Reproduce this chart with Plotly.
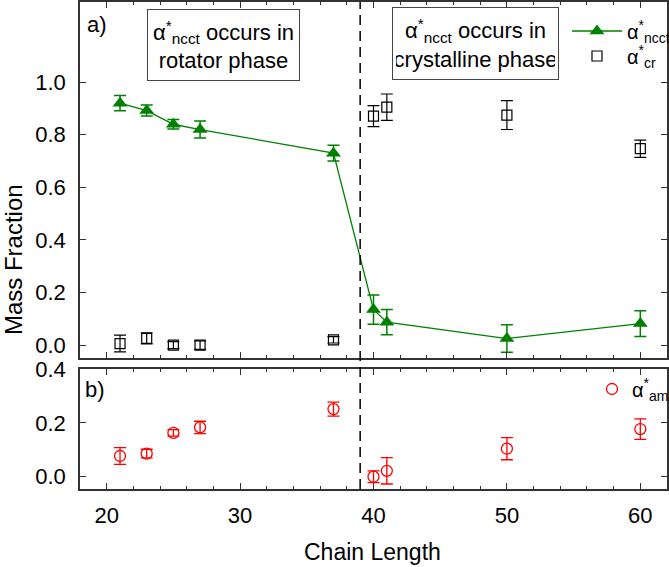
import plotly.graph_objects as go

# ---- data ----
chain = [21, 23, 25, 27, 37, 40, 41, 50, 60]
ncct = [0.92, 0.892, 0.84, 0.82, 0.73, 0.135, 0.087, 0.025, 0.082]
ncct_err = [0.029, 0.021, 0.018, 0.032, 0.03, 0.056, 0.048, 0.052, 0.049]
cr = [0.006, 0.026, 0.0, 0.0, 0.02, 0.871, 0.905, 0.875, 0.747]
cr_err = [0.032, 0.021, 0.013, 0.016, 0.012, 0.04, 0.05, 0.055, 0.033]
am = [0.077, 0.086, 0.163, 0.183, 0.251, 0.0, 0.022, 0.104, 0.177]
am_err = [0.031, 0.016, 0.012, 0.023, 0.026, 0.022, 0.049, 0.041, 0.038]
transition_x = 39

GREEN = "#008000"
RED = "#ff0000"
FONT = "Liberation Sans, Arial, sans-serif"

fig = go.Figure()
fig.add_trace(go.Scatter(
    x=chain, y=ncct, xaxis="x2", yaxis="y2", mode="lines+markers",
    name="α<sup>*</sup><sub>ncct</sub>", legend="legend",
    line=dict(color=GREEN, width=1.3),
    marker=dict(symbol="triangle-up", size=13, color=GREEN),
    error_y=dict(type="data", array=ncct_err, color=GREEN, thickness=1.5, width=6),
))
fig.add_trace(go.Scatter(
    x=chain, y=cr, xaxis="x2", yaxis="y2", mode="markers",
    name="α<sup>*</sup><sub>cr</sub>", legend="legend3",
    marker=dict(symbol="square-open", size=10, color="black", line=dict(width=1.2)),
    error_y=dict(type="data", array=cr_err, color="black", thickness=1.2, width=6),
))
fig.add_trace(go.Scatter(
    x=chain, y=am, xaxis="x", yaxis="y", mode="markers",
    name="α<sup>*</sup><sub>am</sub>", legend="legend2",
    marker=dict(symbol="circle-open", size=11, color=RED, line=dict(width=1.3)),
    error_y=dict(type="data", array=am_err, color=RED, thickness=1.3, width=6),
))

axis_common = dict(
    showline=True, linecolor="#333", linewidth=1.5, mirror="allticks",
    ticks="inside", ticklen=6, tickwidth=1.2, tickcolor="#333",
    showgrid=False, zeroline=False,
    tickfont=dict(family=FONT, size=22, color="black"),
)

leg_common = dict(xref="container", yref="container", xanchor="left", yanchor="middle",
                  bgcolor="rgba(0,0,0,0)", font=dict(family=FONT, size=20))

fig.update_layout(
    width=669, height=567,
    margin=dict(l=80, r=2, t=2, b=78, autoexpand=False),
    paper_bgcolor="white", plot_bgcolor="white",
    font=dict(family=FONT, color="black"),
    xaxis=dict(domain=[0, 1], anchor="y", range=[18, 62], tick0=0, dtick=10,
               minor=dict(dtick=2, ticks="inside", ticklen=3, tickcolor="#333"),
               ticklabelstandoff=6, **axis_common),
    yaxis=dict(domain=[0, 0.2464], anchor="x", range=[-0.0456, 0.4],
               tickvals=[0, 0.2, 0.4], ticktext=["0.0", "0.2", "0.4"],
               ticklabelstandoff=8, **axis_common),
    xaxis2=dict(domain=[0, 1], anchor="y2", matches="x", range=[18, 62], tick0=0, dtick=10,
                showticklabels=False,
                minor=dict(dtick=2, ticks="inside", ticklen=3, tickcolor="#333"),
                **axis_common),
    yaxis2=dict(domain=[0.269, 1], anchor="x2", range=[-0.049, 1.305],
                tickvals=[0, 0.2, 0.4, 0.6, 0.8, 1.0],
                ticktext=["0.0", "0.2", "0.4", "0.6", "0.8", "1.0"],
                ticklabelstandoff=8, **axis_common),
    legend=dict(x=567 / 669, y=1 - 31 / 567, itemwidth=50, **leg_common),
    legend3=dict(x=567 / 669, y=1 - 56 / 567, itemwidth=50, **leg_common),
    legend2=dict(x=592 / 669, y=1 - 389 / 567, **leg_common),
    showlegend=True,
)

fig.add_shape(type="line", xref="x", yref="paper", x0=transition_x, x1=transition_x,
              y0=0, y1=1, line=dict(color="black", width=1.5, dash="10px,6px"))

box_font = dict(family=FONT, size=22, color="black")
fig.add_annotation(xref="paper", yref="paper", x=0.2445, y=0.9117,
                   xanchor="center", yanchor="middle",
                   text="α<sup>*</sup><sub>ncct</sub> occurs in<br>rotator phase",
                   showarrow=False, font=box_font, align="center",
                   bordercolor="#444", borderwidth=1, borderpad=3,
                   width=145, height=64, bgcolor="white")
fig.add_annotation(xref="paper", yref="paper", x=0.6737, y=0.9148,
                   xanchor="center", yanchor="middle",
                   text="α<sup>*</sup><sub>ncct</sub> occurs in<br>crystalline phase",
                   showarrow=False, font=box_font, align="center",
                   bordercolor="#444", borderwidth=1, borderpad=3,
                   width=159, height=65, bgcolor="white")
fig.add_annotation(xref="paper", yref="paper", x=0.0085, y=0.9528,
                   xanchor="left", yanchor="middle",
                   text="a)", showarrow=False, font=box_font)
fig.add_annotation(xref="paper", yref="paper", x=0.0051, y=0.2053,
                   xanchor="left", yanchor="middle",
                   text="b)", showarrow=False, font=box_font)
fig.add_annotation(xref="paper", yref="paper", x=(13 - 80) / 587, y=0.470, textangle=-90,
                   xanchor="center", yanchor="middle",
                   text="Mass Fraction", showarrow=False,
                   font=dict(family=FONT, size=24, color="black"))
fig.add_annotation(xref="paper", yref="paper", x=0.499, y=-0.129,
                   xanchor="center", yanchor="middle",
                   text="Chain Length", showarrow=False,
                   font=dict(family=FONT, size=23, color="black"))

fig.write_html("out.html", config={"displayModeBar": False},
               post_script="document.body.style.margin='0';")
